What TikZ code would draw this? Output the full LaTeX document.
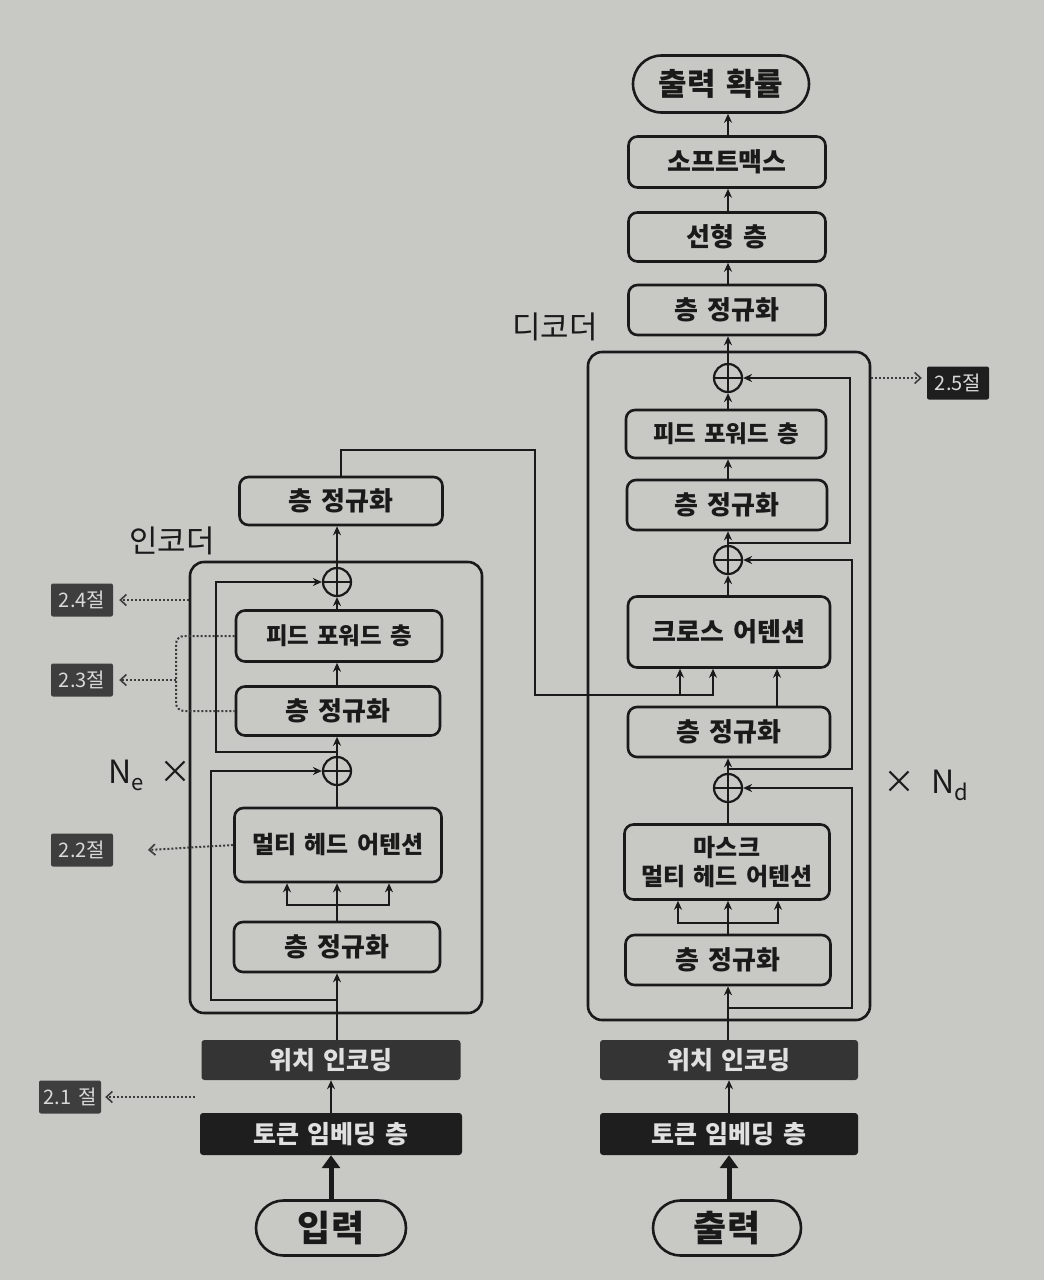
\documentclass[tikz,border=0pt]{standalone}
\usepackage{fontspec}
\setmainfont{Noto Sans CJK KR}[WordSpace=1.5]
\usetikzlibrary{arrows.meta,shapes.misc,calc}
\definecolor{bg}{RGB}{200,200,197}
\definecolor{ink}{RGB}{26,26,26}
\definecolor{darkfill}{RGB}{30,30,30}
\definecolor{midfill}{RGB}{52,52,52}
\definecolor{tagfill}{RGB}{62,62,62}
\begin{document}
\begin{tikzpicture}[x=1pt,y=-1pt,
  box/.style={draw=ink,line width=2.6pt,rounded corners=9pt,inner sep=0pt,align=center,
    font=\fontsize{26}{30}\selectfont\bfseries,text=ink},
  dbox/.style={fill=darkfill,rounded corners=3pt,inner sep=0pt,
    font=\fontsize{25}{28}\selectfont\bfseries,text=white!88!black},
  term/.style={draw=ink,line width=2.6pt,rounded rectangle,inner sep=0pt,text=ink},
  addc/.style={draw=ink,line width=2.2pt,circle,minimum size=28pt,inner sep=0pt,
    path picture={\draw[line width=2.2pt,ink]
      (path picture bounding box.north) -- (path picture bounding box.south)
      (path picture bounding box.west) -- (path picture bounding box.east);}},
  arr/.style={draw=ink,line width=2pt,-{Stealth[length=9pt,width=8pt]}},
  plain/.style={draw=ink,line width=2pt},
  thick arr/.style={draw=ink,line width=5pt,-{Triangle[length=13pt,width=18pt]}},
  dots/.style={draw=ink!85,line width=2pt,dotted,-{Straight Barb[length=6pt,width=11pt,line width=1.6pt]}},
  dotline/.style={draw=ink!85,line width=2pt,dotted,rounded corners=8pt},
  tag/.style={fill=tagfill,rounded corners=2pt,minimum width=62pt,minimum height=33pt,inner sep=0pt,
    text=white!85!black,font=\fontsize{20}{21}\selectfont},
  hand/.style={font=\fontsize{31}{34}\selectfont,text=ink},
  outer/.style={draw=ink,line width=2.6pt,rounded corners=14pt,inner sep=0pt}
]
\fill[bg] (0,0) rectangle (1044,1280);
\useasboundingbox (0,0) rectangle (1044,1280);

% ---------------- Encoder ----------------
\node[outer,minimum width=292pt,minimum height=451pt] (enc) at (336,787.5) {};
\node[term,minimum width=150pt,minimum height=55pt,font=\fontsize{36}{38}\selectfont\bfseries] (in_e) at (331,1228) {입력};
\node[dbox,minimum width=262pt,minimum height=42pt] (emb_e) at (331,1134) {토큰 임베딩 층};
\node[dbox,fill=midfill,minimum width=259pt,minimum height=40pt] (pos_e) at (331,1060) {위치 인코딩};
\node[box,minimum width=206pt,minimum height=50pt] (ln1_e) at (337,947) {층 정규화};
\node[box,minimum width=207pt,minimum height=74pt,font=\fontsize{24}{28}\selectfont\bfseries] (mha_e) at (338,845) {멀티 헤드 어텐션};
\node[addc] (add1_e) at (337,771) {};
\node[box,minimum width=204pt,minimum height=49pt] (ln2_e) at (338,711) {층 정규화};
\node[box,minimum width=206pt,minimum height=51pt,font=\fontsize{23.5}{28}\selectfont\bfseries] (ffn_e) at (339,636) {피드 포워드 층};
\node[addc] (add2_e) at (337,582) {};
\node[box,minimum width=203pt,minimum height=48pt] (lnf_e) at (341,501) {층 정규화};

\node[hand] (enclab) at (172,541) {인코더};
\node[font=\fontsize{32}{34}\selectfont,text=ink] (ne) at (150,775) {N\raisebox{-7pt}{\fontsize{22}{22}\selectfont e}\hspace{16pt}×};

% encoder connectors
\draw[thick arr] (in_e.north) -- (emb_e.south);
\draw[arr] (emb_e.north) -- (pos_e.south);
\draw[arr] (pos_e.north -| add1_e) -- (ln1_e.south -| add1_e);
\coordinate (r1e) at (337,1000);
\draw[arr] (r1e) -- (211,1000) -- (211,771) -- (add1_e.west);
\coordinate (s1e) at (337,905);
\draw[plain] (ln1_e.north -| s1e) -- (s1e);
\draw[arr] (s1e) -- (mha_e.south -| s1e);
\draw[arr] (s1e) -| ($(mha_e.south)+(-51,0)$);
\draw[arr] (s1e) -| ($(mha_e.south)+(51,0)$);
\draw[plain] (mha_e.north -| add1_e) -- (add1_e.south);
\draw[arr] (add1_e.north) -- (ln2_e.south -| add1_e);
\coordinate (r2e) at (337,752);
\draw[arr] (r2e) -- (216,752) -- (216,582) -- (add2_e.west);
\draw[arr] (ln2_e.north -| add1_e) -- (ffn_e.south -| add1_e);
\draw[arr] (ffn_e.north -| add2_e) -- (add2_e.south);
\draw[arr] (add2_e.north) -- (lnf_e.south -| add2_e);

% ---------------- Decoder ----------------
\node[outer,minimum width=282pt,minimum height=668pt] (dec) at (729,686) {};
\node[term,minimum width=148pt,minimum height=55pt,font=\fontsize{36}{38}\selectfont\bfseries] (in_d) at (727,1228) {출력};
\node[dbox,minimum width=258pt,minimum height=42pt] (emb_d) at (729,1134) {토큰 임베딩 층};
\node[dbox,fill=midfill,minimum width=258pt,minimum height=40pt] (pos_d) at (729,1060) {위치 인코딩};
\node[box,minimum width=205pt,minimum height=50pt] (ln1_d) at (728,960) {층 정규화};
\node[box,minimum width=205pt,minimum height=75pt,font=\fontsize{24}{29}\selectfont\bfseries] (mmha_d) at (727,862) {마스크\\멀티 헤드 어텐션};
\node[addc] (add1_d) at (728,788) {};
\node[box,minimum width=202pt,minimum height=50pt] (ln2_d) at (729,732) {층 정규화};
\node[box,minimum width=202pt,minimum height=71pt] (ca_d) at (729,632) {크로스 어텐션};
\node[addc] (add2_d) at (728,560) {};
\node[box,minimum width=200pt,minimum height=50pt] (ln3_d) at (727,505) {층 정규화};
\node[box,minimum width=200pt,minimum height=48pt,font=\fontsize{23.5}{28}\selectfont\bfseries] (ffn_d) at (726,434) {피드 포워드 층};
\node[addc] (add3_d) at (728,378) {};
\node[box,minimum width=197pt,minimum height=50pt] (lnf_d) at (727,310) {층 정규화};
\node[box,minimum width=197pt,minimum height=49pt] (lin_d) at (727,237) {선형 층};
\node[box,minimum width=197pt,minimum height=51pt] (sm_d) at (727,162) {소프트맥스};
\node[term,minimum width=176pt,minimum height=57pt,font=\fontsize{31}{33}\selectfont\bfseries] (out_d) at (721,84) {출력 확률};

\node[hand] (declab) at (555,327) {디코더};
\node[font=\fontsize{32}{34}\selectfont,text=ink] (nd) at (926,785) {×\hspace{16pt}N\raisebox{-7pt}{\fontsize{22}{22}\selectfont d}};

% decoder connectors
\draw[thick arr] (in_d.north -| emb_d) -- (emb_d.south);
\draw[arr] (emb_d.north) -- (pos_d.south);
\draw[arr] (pos_d.north -| add1_d) -- (ln1_d.south -| add1_d);
\coordinate (r1d) at (728,1008);
\draw[arr] (r1d) -- (852,1008) -- (852,788) -- (add1_d.east);
\coordinate (s1d) at (728,923);
\draw[plain] (ln1_d.north -| s1d) -- (s1d);
\draw[arr] (s1d) -- (mmha_d.south -| s1d);
\draw[arr] (s1d) -| ($(mmha_d.south)+(-49,0)$);
\draw[arr] (s1d) -| ($(mmha_d.south)+(51,0)$);
\draw[plain] (mmha_d.north -| add1_d) -- (add1_d.south);
\draw[arr] (add1_d.north) -- (ln2_d.south -| add1_d);
\coordinate (r2d) at (728,769);
\draw[arr] (r2d) -- (852,769) -- (852,560) -- (add2_d.east);
\draw[arr] ($(ln2_d.north)+(48,0)$) -- ($(ca_d.south)+(48,0)$);
\draw[arr] (ca_d.north -| add2_d) -- (add2_d.south);
\draw[arr] (add2_d.north) -- (ln3_d.south -| add2_d);
\coordinate (r3d) at (728,543);
\draw[arr] (r3d) -- (850,543) -- (850,378) -- (add3_d.east);
\draw[arr] (ln3_d.north -| add2_d) -- (ffn_d.south -| add2_d);
\draw[arr] (ffn_d.north -| add3_d) -- (add3_d.south);
\draw[arr] (add3_d.north) -- (lnf_d.south -| add3_d);
\draw[arr] (lnf_d.north -| add3_d) -- (lin_d.south -| add3_d);
\draw[arr] (lin_d.north -| add3_d) -- (sm_d.south -| add3_d);
\draw[arr] (sm_d.north -| add3_d) -- (out_d.south -| add3_d);

% encoder output to cross attention
\draw[arr] (lnf_e.north) |- (535,450) |- ($(ca_d.south)+(-16,26)$) -- ($(ca_d.south)+(-16,0)$);
\draw[arr] ($(ca_d.south)+(-49,26)$) -- ($(ca_d.south)+(-49,0)$);

% ---------------- section tags ----------------
\node[tag] (t21) at (70,1097) {2.1 절};
\node[tag] (t22) at (82,850) {2.2절};
\node[tag] (t23) at (82,680) {2.3절};
\node[tag] (t24) at (82,600) {2.4절};
\node[tag,fill=darkfill] (t25) at (958,383) {2.5절};

\coordinate (d21) at (195,1097);
\draw[dots,shorten >=4pt] (d21) -- (t21.east);
\coordinate (d22) at (148,850);
\draw[dots] (mha_e.west) -- (d22);
\coordinate (b23) at (176,680);
\draw[dotline] (ffn_e.west) -| (b23) |- (ln2_e.west);
\draw[dots,shorten >=6pt] (b23) -- (t23.east);
\draw[dots,shorten >=6pt] (t24 -| enc.west) -- (t24.east);
\draw[dots,shorten >=5pt] (dec.east |- add3_d) -- (t25.west |- add3_d);
\end{tikzpicture}
\end{document}
